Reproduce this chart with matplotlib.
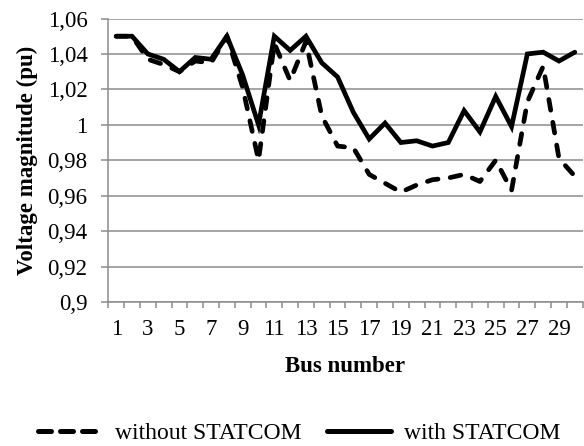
import numpy as np
import matplotlib
matplotlib.use("Agg")
import matplotlib.pyplot as plt
from matplotlib.lines import Line2D
from matplotlib.ticker import FixedLocator, FuncFormatter

# Bus voltage profile, 30-bus system
bus = list(range(1, 31))
without_statcom = [1.050, 1.050, 1.037, 1.034, 1.030, 1.036, 1.035, 1.050, 1.021, 0.980,
                   1.046, 1.025, 1.047, 1.005, 0.988, 0.987, 0.972, 0.967, 0.962, 0.966,
                   0.969, 0.970, 0.972, 0.968, 0.980, 0.963, 1.013, 1.033, 0.981, 0.971]
with_statcom = [1.050, 1.050, 1.040, 1.037, 1.030, 1.038, 1.037, 1.050, 1.028, 1.000,
                1.050, 1.042, 1.050, 1.035, 1.027, 1.007, 0.992, 1.001, 0.990, 0.991,
                0.988, 0.990, 1.008, 0.996, 1.016, 0.999, 1.040, 1.041, 1.036, 1.041]
y_ticks = [0.90, 0.92, 0.94, 0.96, 0.98, 1.00, 1.02, 1.04, 1.06]
x_labels = list(range(1, 30, 2))

plt.rcParams['font.family'] = ['Liberation Serif', 'DejaVu Serif']
grey = '#8c8c8c'
fs = 16.5

fig = plt.figure(figsize=(5.84, 4.46), dpi=100)
ax = fig.add_axes([0.1854, 0.3229, 0.8124, 0.6356])

ax.plot(bus, without_statcom, color='black', lw=3.4, dashes=[2.3, 2.6],
        dash_capstyle='round', solid_joinstyle='miter')
ax.plot(bus, with_statcom, color='black', lw=3.4, solid_capstyle='round',
        solid_joinstyle='miter')

ax.set_xlim(0.5, 30.5)
ax.set_ylim(0.9, 1.06)

# y axis: gridlines and comma decimal labels
ax.set_yticks(y_ticks)
ax.yaxis.set_major_formatter(FuncFormatter(lambda v, p: ('%g' % round(v, 2)).replace('.', ',')))
ax.grid(axis='y', color=grey, lw=1.1)
ax.set_axisbelow(True)
ax.tick_params(axis='y', length=5, width=1.1, color=grey, pad=10, labelsize=fs)

# x axis: labels on odd buses, tick marks between categories
ax.xaxis.set_major_locator(FixedLocator(x_labels))
ax.xaxis.set_minor_locator(FixedLocator(np.arange(0.5, 31, 1)))
ax.tick_params(axis='x', which='major', length=0, pad=12, labelsize=fs)
ax.tick_params(axis='x', which='minor', length=4, width=1.1, color=grey)

for side in ['top', 'right']:
    ax.spines[side].set_visible(False)
for side in ['left', 'bottom']:
    ax.spines[side].set_color(grey)
    ax.spines[side].set_linewidth(1.1)

ax.set_xlabel('Bus number', fontsize=fs, fontweight='bold', labelpad=12)
ax.set_ylabel('Voltage magnitude (pu)', fontsize=fs, fontweight='bold', labelpad=7)

# legend samples use a shorter gap than the plotted dashes
handles = [
    Line2D([], [], color='black', lw=3.6, dashes=[2.6, 1.8], dash_capstyle='round'),
    Line2D([], [], color='black', lw=3.6, solid_capstyle='round'),
]
fig.legend(handles, ['without STATCOM', 'with STATCOM'], loc='center',
           bbox_to_anchor=(0.512, 0.028), ncol=2, frameon=False,
           fontsize=17, handlelength=2.7, handletextpad=0.55, columnspacing=1.1)

fig.savefig('out.png', dpi=100)
